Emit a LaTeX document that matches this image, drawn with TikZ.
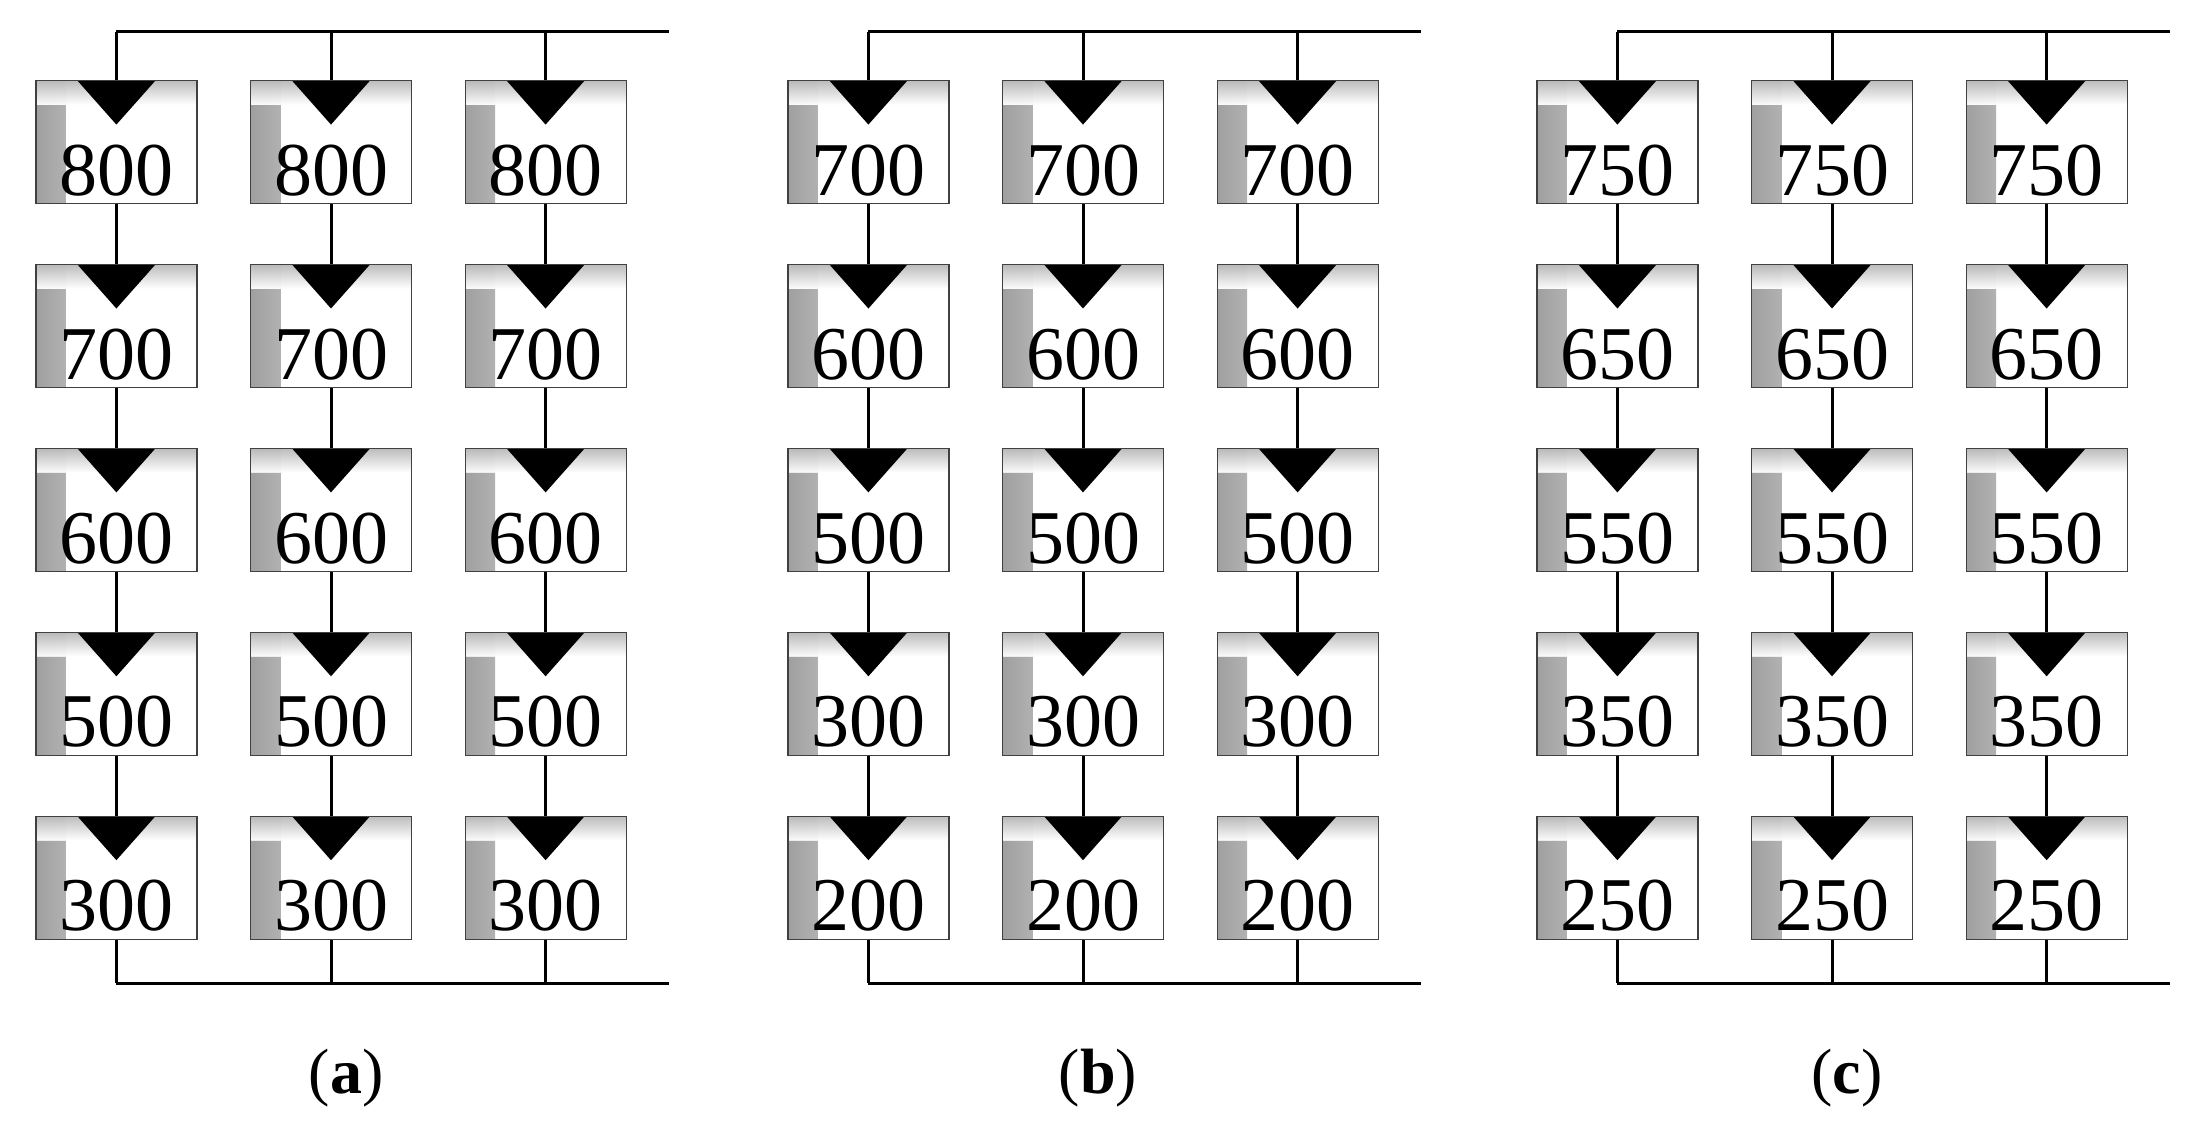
\documentclass[tikz,border=0pt]{standalone}
\usepackage{fontspec}
\setmainfont{Liberation Serif}
\begin{document}
\begin{tikzpicture}[x=1pt,y=-1pt,
  cell/.style={draw=gray!50!black, line width=1.2pt, minimum width=161pt, minimum height=123pt, inner sep=0pt, fill=white,
    path picture={
      \fill[left color=gray!75, right color=white] (path picture bounding box.north west) rectangle ++(30,123);
      \fill[top color=gray!65, bottom color=white, opacity=0.8] (path picture bounding box.north west) rectangle ++(161,24);
      \fill[black] ([xshift=-39pt]path picture bounding box.north) -- ([xshift=39pt]path picture bounding box.north) -- ([yshift=-44pt]path picture bounding box.north) -- cycle;
    }},
  num/.style={font=\fontsize{76}{76}\selectfont, anchor=base, inner sep=0pt},
  wire/.style={line width=3pt},
  captext/.style={font=\fontsize{64}{68}\selectfont}]
\useasboundingbox (0,0) rectangle (2199,1126);
\foreach \p/\off/\lab/\va/\vb/\vc/\vd/\ve in {a/0/a/800/700/600/500/300, b/752/b/700/600/500/300/200, c/1501/c/750/650/550/350/250}{
  \coordinate (\p TL) at (116.4+\off,32);
  \coordinate (\p TR) at (669+\off,32);
  \coordinate (\p BL) at (116.4+\off,983);
  \coordinate (\p BR) at (669+\off,983);
  \draw[wire] (\p TL) -- (\p TR);
  \draw[wire] (\p BL) -- (\p BR);
  \foreach \c/\cx in {1/116.4,2/331,3/545.6}{
    \foreach \r/\v in {1/\va,2/\vb,3/\vc,4/\vd,5/\ve}{
      \pgfmathsetmacro{\ty}{80+183.9*(\r-1)}
      \node[cell, anchor=north] (\p\c\r) at (\cx+\off,\ty) {};
      \node[num] (\p\c\r n) at ([yshift=9pt]\p\c\r.south) {\v};
    }
    \coordinate (\p\c top) at (\cx+\off,32);
    \coordinate (\p\c bot) at (\cx+\off,983);
    \draw[wire] (\p\c top) -- (\p\c1.north);
    \draw[wire] (\p\c1.south) -- (\p\c2.north);
    \draw[wire] (\p\c2.south) -- (\p\c3.north);
    \draw[wire] (\p\c3.south) -- (\p\c4.north);
    \draw[wire] (\p\c4.south) -- (\p\c5.north);
    \draw[wire] (\p\c5.south) -- (\p\c bot);
  }
  \node[captext] (\p lab) at (346+\off,1078) {(\textbf{\lab})};
}
\end{tikzpicture}
\end{document}
